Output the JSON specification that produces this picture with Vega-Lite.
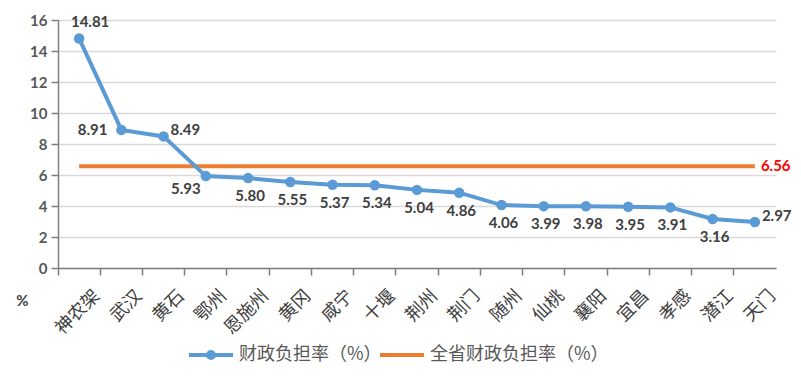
{
  "$schema": "https://vega.github.io/schema/vega-lite/v6.json",
  "width": 718,
  "height": 248,
  "autosize": {"type": "none"},
  "padding": {"left": 58, "top": 20, "right": 25, "bottom": 115},
  "background": "white",
  "config": {
    "view": {"stroke": null},
    "font": "Lato",
    "axisY": {
      "titleAngle": 0, "titleX": -36, "titleY": 280,
      "titleFont": "Lato", "titleFontSize": 15, "titleFontWeight": "bold", "titleColor": "#404040",
      "titleAlign": "center", "titleBaseline": "middle",
      "labelOverlap": false,
      "labelFont": "Lato", "labelFontSize": 15, "labelFontWeight": "bold", "labelColor": "#595959",
      "labelPadding": 4, "domainColor": "#7f7f7f", "domainWidth": 1.5,
      "tickColor": "#7f7f7f", "tickWidth": 1.5, "tickSize": 7,
      "grid": true, "gridColor": "#d9d9d9", "gridWidth": 1.5
    }
  },
  "data": {
    "values": [
      {"city": "神农架", "v": 14.81, "avg": 6.56},
      {"city": "武汉", "v": 8.91, "avg": 6.56},
      {"city": "黄石", "v": 8.49, "avg": 6.56},
      {"city": "鄂州", "v": 5.93, "avg": 6.56},
      {"city": "恩施州", "v": 5.80, "avg": 6.56},
      {"city": "黄冈", "v": 5.55, "avg": 6.56},
      {"city": "咸宁", "v": 5.37, "avg": 6.56},
      {"city": "十堰", "v": 5.34, "avg": 6.56},
      {"city": "荆州", "v": 5.04, "avg": 6.56},
      {"city": "荆门", "v": 4.86, "avg": 6.56},
      {"city": "随州", "v": 4.06, "avg": 6.56},
      {"city": "仙桃", "v": 3.99, "avg": 6.56},
      {"city": "襄阳", "v": 3.98, "avg": 6.56},
      {"city": "宜昌", "v": 3.95, "avg": 6.56},
      {"city": "孝感", "v": 3.91, "avg": 6.56},
      {"city": "潜江", "v": 3.16, "avg": 6.56},
      {"city": "天门", "v": 2.97, "avg": 6.56}
    ]
  },
  "encoding": {
    "x": {
      "field": "city", "type": "nominal", "sort": null,
      "scale": {"type": "band", "paddingInner": 0, "paddingOuter": 0},
      "axis": {
        "title": null, "bandPosition": 0, "labelOffset": 18, "labelAngle": -45,
        "labelAlign": "right", "labelBaseline": "middle",
        "labelFont": "Noto Sans CJK SC", "labelFontSize": 18, "labelColor": "#404040",
        "labelPadding": 18, "domainColor": "#7f7f7f", "domainWidth": 1.5,
        "tickColor": "#7f7f7f", "tickWidth": 1.5, "tickSize": 7, "grid": false
      }
    }
  },
  "layer": [
    {
      "mark": {"type": "line", "strokeWidth": 4},
      "encoding": {
        "y": {
          "field": "avg", "type": "quantitative",
          "scale": {"domain": [0, 16]},
          "axis": {"title": "%", "values": [0, 2, 4, 6, 8, 10, 12, 14, 16]}
        },
        "color": {
          "datum": "全省财政负担率（%）",
          "scale": {"range": ["#ed7d31"]},
          "legend": {
            "title": null, "orient": "none", "legendX": 320, "legendY": 311,
            "symbolType": "M-1,0L1,0", "symbolSize": 1936, "symbolStrokeWidth": 4,
            "labelFont": "Noto Sans CJK SC", "labelFontSize": 18, "labelColor": "#595959",
            "labelOffset": 4, "labelLimit": 400
          }
        }
      }
    },
    {
      "mark": {"type": "line", "strokeWidth": 4, "point": {"size": 110, "filled": true, "color": "#5b9bd5"}},
      "encoding": {
        "y": {"field": "v", "type": "quantitative", "axis": {"title": "%", "values": [0, 2, 4, 6, 8, 10, 12, 14, 16]}},
        "color": {
          "datum": "财政负担率（%）",
          "scale": {"range": ["#5b9bd5"]},
          "legend": {
            "title": null, "orient": "none", "legendX": 129, "legendY": 311,
            "symbolType": "M-1,0L1,0M-0.14,0A0.14,0.14,0,1,1,0.14,0A0.14,0.14,0,1,1,-0.14,0Z",
            "symbolSize": 1936, "symbolStrokeWidth": 4, "symbolFillColor": "#5b9bd5",
            "labelFont": "Noto Sans CJK SC", "labelFontSize": 18, "labelColor": "#595959",
            "labelOffset": 4, "labelLimit": 400
          }
        }
      }
    },
    {
      "transform": [{"filter": "datum.city == '神农架'"}],
      "mark": {"type": "text", "dx": 11, "dy": -16, "fontSize": 15, "fontWeight": "bold", "color": "#404040"},
      "encoding": {"y": {"field": "v", "type": "quantitative", "axis": {"title": "%", "values": [0, 2, 4, 6, 8, 10, 12, 14, 16]}}, "text": {"field": "v", "format": ".2f"}}
    },
    {
      "transform": [{"filter": "datum.city == '武汉'"}],
      "mark": {"type": "text", "dx": -14, "align": "right", "fontSize": 15, "fontWeight": "bold", "color": "#404040"},
      "encoding": {"y": {"field": "v", "type": "quantitative", "axis": {"title": "%", "values": [0, 2, 4, 6, 8, 10, 12, 14, 16]}}, "text": {"field": "v", "format": ".2f"}}
    },
    {
      "transform": [{"filter": "datum.city == '黄石' || datum.city == '天门'"}],
      "mark": {"type": "text", "dx": 7, "dy": -6, "align": "left", "fontSize": 15, "fontWeight": "bold", "color": "#404040"},
      "encoding": {"y": {"field": "v", "type": "quantitative", "axis": {"title": "%", "values": [0, 2, 4, 6, 8, 10, 12, 14, 16]}}, "text": {"field": "v", "format": ".2f"}}
    },
    {
      "transform": [{"filter": "datum.city == '鄂州'"}],
      "mark": {"type": "text", "dx": -20, "dy": 13, "fontSize": 15, "fontWeight": "bold", "color": "#404040"},
      "encoding": {"y": {"field": "v", "type": "quantitative", "axis": {"title": "%", "values": [0, 2, 4, 6, 8, 10, 12, 14, 16]}}, "text": {"field": "v", "format": ".2f"}}
    },
    {
      "transform": [{"filter": "datum.city != '神农架' && datum.city != '武汉' && datum.city != '黄石' && datum.city != '天门' && datum.city != '鄂州'"}],
      "mark": {"type": "text", "dx": 2, "dy": 18, "fontSize": 15, "fontWeight": "bold", "color": "#404040"},
      "encoding": {"y": {"field": "v", "type": "quantitative", "axis": {"title": "%", "values": [0, 2, 4, 6, 8, 10, 12, 14, 16]}}, "text": {"field": "v", "format": ".2f"}}
    },
    {
      "transform": [{"filter": "datum.city == '天门'"}],
      "mark": {"type": "text", "dx": 6, "align": "left", "fontSize": 15, "fontWeight": "bold", "color": "#ff0000"},
      "encoding": {"y": {"field": "avg", "type": "quantitative", "axis": {"title": "%", "values": [0, 2, 4, 6, 8, 10, 12, 14, 16]}}, "text": {"field": "avg", "format": ".2f"}}
    }
  ],
  "resolve": {"scale": {"color": "independent"}}
}
